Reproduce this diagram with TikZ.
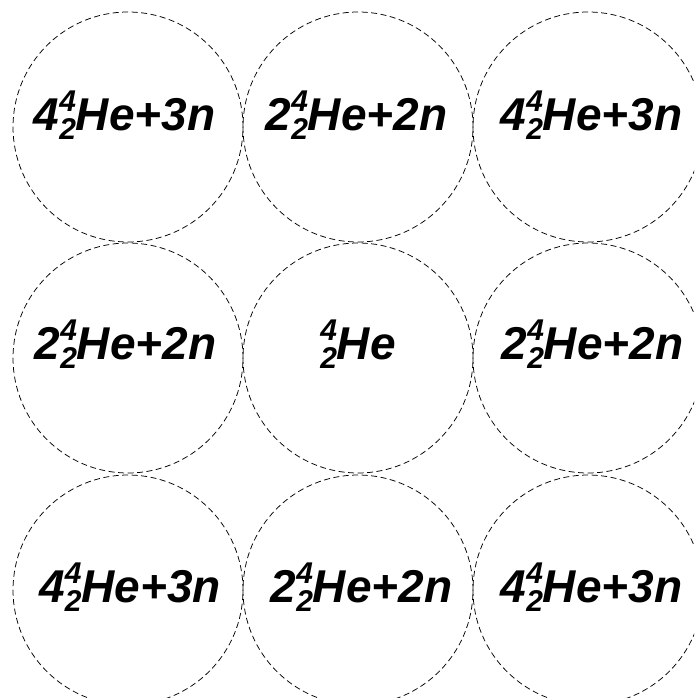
\documentclass[tikz,border=0pt]{standalone}
\usepackage{fontspec}
\setmainfont{Liberation Sans}
\newcommand{\isoiv}{\makebox[0pt][l]{\raisebox{-0.2em}{\fontsize{30}{30}\selectfont 2}}\raisebox{0.4em}{\fontsize{30}{30}\selectfont 4}}
\begin{document}
\begin{tikzpicture}[x=1pt,y=-1pt,
  ring/.style={circle,draw=black,line width=0.75pt,dash pattern=on 6pt off 3.5pt,minimum size=230pt,inner sep=0pt},
  lab/.style={anchor=base,inner sep=0pt,font=\fontsize{46}{46}\selectfont\bfseries\itshape}]
\useasboundingbox (0,0) rectangle (694,698);
\clip (0,0) rectangle (694,698);
\node[ring] (c11) at (128,127) {};
\node[ring] (c12) at (358,127) {};
\node[ring] (c13) at (588,127) {};
\node[ring] (c21) at (128,358) {};
\node[ring] (c22) at (358,358) {};
\node[ring] (c23) at (588,358) {};
\node[ring] (c31) at (128,590) {};
\node[ring] (c32) at (358,590) {};
\node[ring] (c33) at (588,590) {};
\node[lab] (t11) at (124.5,130) {4\isoiv He+3n};
\node[lab] (t12) at (356.5,130) {2\isoiv He+2n};
\node[lab] (t13) at (591.5,130) {4\isoiv He+3n};
\node[lab] (t21) at (125.5,359) {2\isoiv He+2n};
\node[lab] (t22) at (358,359) {\isoiv He};
\node[lab] (t23) at (592.5,359) {2\isoiv He+2n};
\node[lab] (t31) at (130,602) {4\isoiv He+3n};
\node[lab] (t32) at (361.5,602) {2\isoiv He+2n};
\node[lab] (t33) at (591.5,602) {4\isoiv He+3n};
\end{tikzpicture}
\end{document}
